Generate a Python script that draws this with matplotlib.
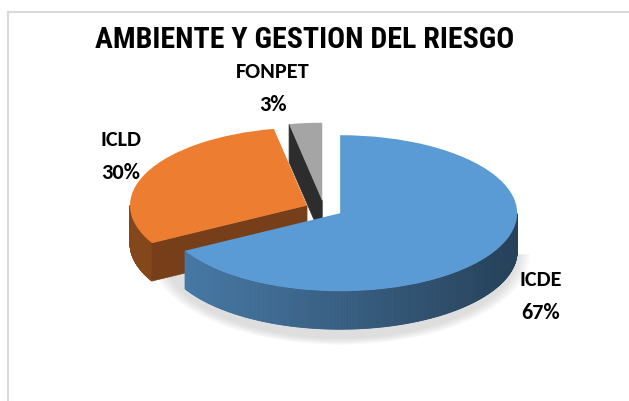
import numpy as np
import matplotlib.pyplot as plt
from matplotlib.collections import PolyCollection
from matplotlib.patches import Polygon
from matplotlib.lines import Line2D
from matplotlib.colors import to_rgb

# datos del grafico
categorias = ["ICDE", "ICLD", "FONPET"]
valores = [67, 30, 3]
colores = ["#5B9BD5", "#ED7D31", "#A5A5A5"]
titulo = "AMBIENTE Y GESTION DEL RIESGO"

# geometria de la torta 3D (pixeles)
W, H = 629, 402
RX, RY = 177, 78          # radios de la cara superior
CX, CY = 324, 210         # centro de la torta, y medido desde arriba
PROF = 38 / RY            # espesor del cilindro en unidades de y
EXPLOTA = 0.106

# sombreado de los lados (izquierda, derecha) y caras de corte
LADOS = [(0.80, 0.42), (0.56, 0.50), (0.30, 0.30)]
CORTE = [0.45, 0.50, 0.27]
ZBASE = [6, 4, 2]

# posiciones de las etiquetas (pixeles)
POS_ETIQ = [(541, 280), (121, 140), (273, 72)]
SALTO = 33

FUENTE_TITULO = ["Liberation Sans Narrow", "Roboto Condensed", "PT Sans Narrow",
                 "Archivo Narrow", "Liberation Sans"]
FUENTE_ETIQ = ["Carlito", "Lato", "DejaVu Sans"]


def tono(color, f):
    return tuple(np.array(to_rgb(color)) * f)


fig = plt.figure(figsize=(W / 100, H / 100), dpi=100)
ax = fig.add_axes([0, 0, 1, 1])
wedges, _ = ax.pie(valores, colors=colores, startangle=90, counterclock=False,
                   explode=[EXPLOTA] * len(valores),
                   wedgeprops=dict(linewidth=0))
ax.set_aspect("auto")
ax.set_xlim(-CX / RX, (W - CX) / RX)
ax.set_ylim(-(H - CY) / RY, CY / RY)
ax.axis("off")

# sombra suave bajo la torta
bcx, bcy = wedges[0].center
for s in np.linspace(1.07, 1.0, 6):
    t = np.radians(np.linspace(-180, 0, 200))
    pts = np.column_stack([bcx + s * np.cos(t), bcy - PROF - 0.04 + s * 1.08 * np.sin(t)])
    ax.add_patch(Polygon(pts, closed=True, facecolor="#BFBFBF", alpha=0.10,
                         linewidth=0, zorder=0.5))

for i, w in enumerate(wedges):
    cx, cy = w.center
    t1, t2 = w.theta1, w.theta2
    z = ZBASE[i]
    w.set_zorder(z + 1)

    # borde frontal del cilindro
    ts = np.linspace(t1, t2, 500)
    tv = ts[np.sin(np.radians(ts)) < 0]
    if len(tv) > 1:
        quads, cols = [], []
        izq, der = LADOS[i]
        for a, b in zip(tv[:-1], tv[1:]):
            ra, rb = np.radians(a), np.radians(b)
            xa, ya = cx + np.cos(ra), cy + np.sin(ra)
            xb, yb = cx + np.cos(rb), cy + np.sin(rb)
            quads.append([(xa, ya), (xb, yb), (xb, yb - PROF), (xa, ya - PROF)])
            f = izq + (der - izq) * (np.cos((ra + rb) / 2) + 1) / 2
            cols.append(tono(colores[i], f))
        ax.add_collection(PolyCollection(quads, facecolors=cols, edgecolors=cols,
                                         linewidths=0.6, zorder=z))

    # caras de corte visibles
    for t, normal in ((t1, t1 - 90), (t2, t2 + 90)):
        if np.sin(np.radians(normal)) < -1e-6:
            rt = np.radians(t)
            px, py = cx + np.cos(rt), cy + np.sin(rt)
            c = tono(colores[i], CORTE[i])
            ax.add_patch(Polygon([(cx, cy), (px, py), (px, py - PROF), (cx, cy - PROF)],
                                 closed=True, facecolor=c, edgecolor=c, linewidth=0.5,
                                 zorder=z + 0.5))

# titulo y etiquetas
fig.text(305 / W, 1 - 40 / H, titulo, ha="center", va="center",
         fontsize=21.5, fontweight="bold", family=FUENTE_TITULO)

total = sum(valores)
for nombre, v, (x, y) in zip(categorias, valores, POS_ETIQ):
    pct = f"{round(v / total * 100)}%"
    fig.text(x / W, 1 - y / H, nombre, ha="center", va="center",
             fontsize=16, fontweight="heavy", family=FUENTE_ETIQ)
    fig.text(x / W, 1 - (y + SALTO) / H, pct, ha="center", va="center",
             fontsize=16, fontweight="heavy", family=FUENTE_ETIQ)

# marco del area del grafico
gris = "#D9D9D9"
fig.add_artist(Line2D([7.5 / W, 7.5 / W], [0, 1 - 13 / H], color=gris, lw=1.5))
fig.add_artist(Line2D([7.5 / W, 1], [1 - 13 / H, 1 - 13 / H], color=gris, lw=1.5))

fig.savefig("out.png", dpi=100, facecolor="white")
